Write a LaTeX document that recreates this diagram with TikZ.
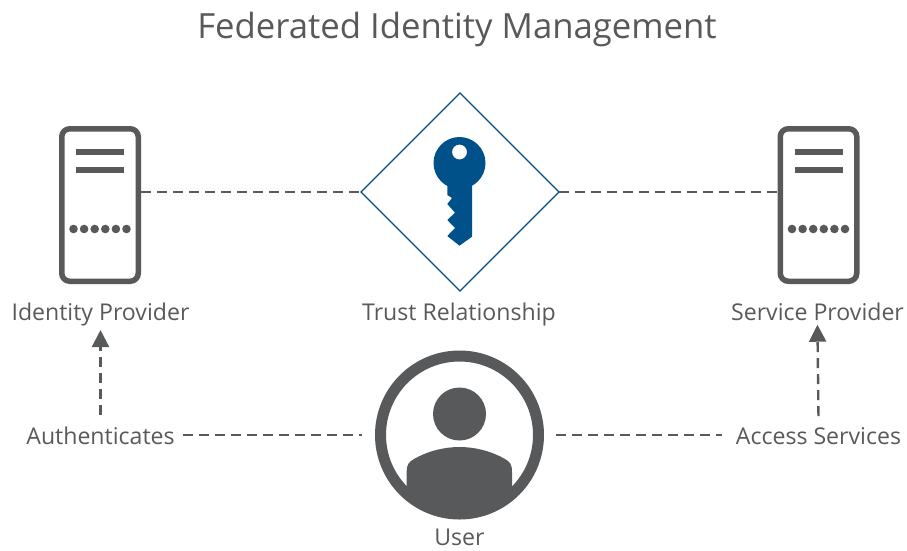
\documentclass[tikz,border=0pt]{standalone}
\usepackage{fontspec}
\setmainfont{Open Sans}
\usetikzlibrary{shapes.geometric,arrows.meta}

\definecolor{icongray}{HTML}{58595B}
\definecolor{textgray}{HTML}{595959}
\definecolor{keyblue}{HTML}{00508A}

\tikzset{
    server/.style={draw=icongray,line width=5.5pt,rounded corners=8pt,minimum width=76.5pt,minimum height=152.5pt,inner sep=0pt,outer sep=2.75pt},
    label/.style={text=textgray,font=\fontsize{23.1}{26}\selectfont,inner sep=0pt,outer sep=8pt,anchor=base},
    link/.style={draw=icongray,line width=2.4pt,dash pattern=on 10pt off 6pt},
    uplink/.style={link,shorten <=3pt,shorten >=-3.5pt,-{Triangle[length=17pt,width=17pt]}},
}

\begin{document}
\begin{tikzpicture}[x=1pt,y=-1pt]

    \useasboundingbox (0,0) rectangle (907,550);

    \node[text=textgray,font=\fontsize{34.7}{40}\selectfont,inner sep=0pt,anchor=base] (title) at (457,38.5) {Federated Identity Management};

    \node[server] (IdP) at (100,205) {};
    \node[server] (SP) at (818.5,205) {};

    \fill[icongray] (76,149) rectangle (124,155);
    \fill[icongray] (76,167) rectangle (124,173);
    \fill[icongray] (794.5,149) rectangle (842.5,155);
    \fill[icongray] (794.5,167) rectangle (842.5,173);
    \foreach \i in {0,...,5} {
        \fill[icongray] (73.5+10.6*\i,229) circle (4.3);
        \fill[icongray] (792+10.6*\i,229) circle (4.3);
    }

    \node[draw=keyblue,line width=1.3pt,diamond,aspect=1,minimum width=198pt,minimum height=198pt,inner sep=0pt,outer sep=0pt] (trust) at (460,192) {};

    \fill[keyblue,even odd rule] (459.5,163) circle (26) (459.5,152) circle (7.5);
    \fill[keyblue] (447.3,180) -- (472,180) -- (472,236.7) -- (459.5,245.7) -- (447.3,236)
        -- (455,228) -- (447.3,220) -- (455,212.7) -- (447.3,204) -- (452,198) -- (447.3,195) -- cycle;

    \node[circle,draw=icongray,line width=11pt,minimum size=158pt,inner sep=0pt,outer sep=5.5pt] (user) at (459.5,435) {};

    \fill[icongray] (459.5,414) circle (26.5);
    \begin{scope}
        \clip (459.5,435) circle (79);
        \fill[icongray] (406.7,530) -- (406.7,472) .. controls (406.7,464) and (409,462) .. (414,459)
            .. controls (428,451) and (444,447) .. (459.5,447)
            .. controls (475,447) and (491,451) .. (505,459)
            .. controls (510,462) and (512,464) .. (512,472) -- (512,530) -- cycle;
    \end{scope}

    \node[label] (IdPlabel) at (100.5,320) {Identity Provider};
    \node[label] (trustlabel) at (459,320) {Trust Relationship};
    \node[label] (SPlabel) at (817.5,320) {Service Provider};
    \node[label] (authn) at (100.5,444) {Authenticates};
    \node[label] (access) at (818.5,444) {Access Services};
    \node[label] (userlabel) at (459.5,545) {User};

    \path (IdP.east |- trust.west) edge[link] (trust.west);
    \path (trust.east) edge[link] (SP.west |- trust.east);

    \path (authn.east |- user.west) edge[link,shorten >=13pt] (user.west);
    \path (user.east) edge[link,shorten <=12pt,shorten >=6pt] (access.west |- user.east);

    \path (authn.north) edge[uplink] (IdPlabel.south);
    \path (access.north) edge[uplink] (SPlabel.south);

\end{tikzpicture}
\end{document}
